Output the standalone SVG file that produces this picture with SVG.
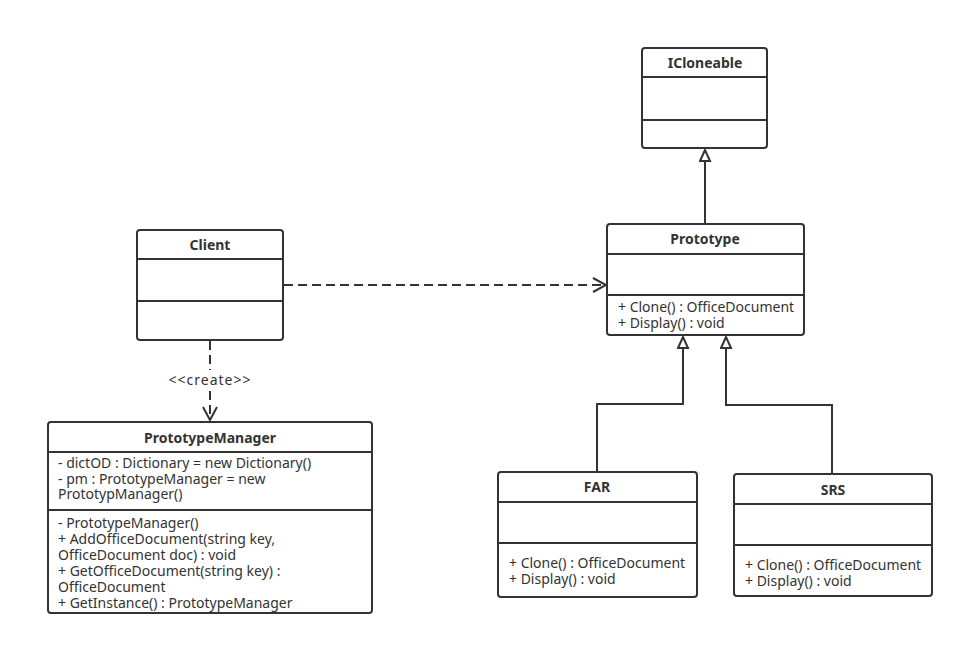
<svg xmlns="http://www.w3.org/2000/svg" width="963" height="646" viewBox="0 0 963 646">
<style>
.box{fill:#fff;stroke:#333;stroke-width:2}
.div{stroke:#333;stroke-width:2}
.t{font-family:"Noto Sans","Open Sans",sans-serif;font-size:14px;fill:#333}
.b{font-weight:bold;text-anchor:middle}
.ln{fill:none;stroke:#333;stroke-width:2}
.dash{stroke-dasharray:9 5}
</style>
<defs>
<marker id="tri" markerWidth="14" markerHeight="14" refX="12" refY="6" orient="auto" markerUnits="userSpaceOnUse">
<path d="M1,1 L12,6 L1,11 Z" fill="#fff" stroke="#333" stroke-width="2"/>
</marker>
<marker id="open" markerWidth="16" markerHeight="16" refX="14" refY="8" orient="auto" markerUnits="userSpaceOnUse">
<path d="M1,1 L14,8 L1,15" fill="none" stroke="#333" stroke-width="2"/>
</marker>
</defs>
<rect width="963" height="646" fill="#fff"/>
<g id="connectors">
<path class="ln" d="M705,224 V150" marker-end="url(#tri)"/>
<path class="ln dash" d="M284,285 H606" marker-end="url(#open)"/>
<path class="ln dash" d="M210,341 V370 M210,391 V420" marker-end="url(#open)"/>
<text class="t" x="210" y="385" text-anchor="middle" font-size="12" letter-spacing="1">&lt;&lt;create&gt;&gt;</text>
<path class="ln" d="M597,472 V404 H683 V337" marker-end="url(#tri)"/>
<path class="ln" d="M832,474 V405 H726 V337" marker-end="url(#tri)"/>
</g>
<g id="ICloneable">
<rect class="box" x="642" y="48" width="125" height="100" rx="3"/>
<line class="div" x1="642" y1="77" x2="767" y2="77"/>
<line class="div" x1="642" y1="120" x2="767" y2="120"/>
<text class="t b" x="705" y="68">ICloneable</text>
</g>
<g id="Prototype">
<rect class="box" x="607" y="224" width="197" height="111" rx="3"/>
<line class="div" x1="607" y1="254" x2="804" y2="254"/>
<line class="div" x1="607" y1="295" x2="804" y2="295"/>
<text class="t b" x="705" y="244">Prototype</text>
<text class="t" x="618" y="312">+ Clone() : OfficeDocument</text>
<text class="t" x="618" y="328">+ Display() : void</text>
</g>
<g id="Client">
<rect class="box" x="137" y="230" width="146" height="110" rx="3"/>
<line class="div" x1="137" y1="259" x2="283" y2="259"/>
<line class="div" x1="137" y1="301" x2="283" y2="301"/>
<text class="t b" x="210" y="250">Client</text>
</g>
<g id="PrototypeManager">
<rect class="box" x="48" y="422" width="324" height="191" rx="3"/>
<line class="div" x1="48" y1="452" x2="372" y2="452"/>
<line class="div" x1="48" y1="510" x2="372" y2="510"/>
<text class="t b" x="210" y="443">PrototypeManager</text>
<text class="t" x="58" y="468">- dictOD : Dictionary = new Dictionary()</text>
<text class="t" x="58" y="484">- pm : PrototypeManager = new</text>
<text class="t" x="58" y="499">PrototypManager()</text>
<text class="t" x="58" y="528">- PrototypeManager()</text>
<text class="t" x="58" y="544">+ AddOfficeDocument(string key,</text>
<text class="t" x="58" y="560">OfficeDocument doc) : void</text>
<text class="t" x="58" y="576">+ GetOfficeDocument(string key) :</text>
<text class="t" x="58" y="592">OfficeDocument</text>
<text class="t" x="58" y="608">+ GetInstance() : PrototypeManager</text>
</g>
<g id="FAR">
<rect class="box" x="498" y="472" width="199" height="125" rx="3"/>
<line class="div" x1="498" y1="502" x2="697" y2="502"/>
<line class="div" x1="498" y1="543" x2="697" y2="543"/>
<text class="t b" x="597" y="492">FAR</text>
<text class="t" x="509" y="568">+ Clone() : OfficeDocument</text>
<text class="t" x="509" y="584">+ Display() : void</text>
</g>
<g id="SRS">
<rect class="box" x="734" y="474" width="198" height="122" rx="3"/>
<line class="div" x1="734" y1="504" x2="932" y2="504"/>
<line class="div" x1="734" y1="545" x2="932" y2="545"/>
<text class="t b" x="833" y="495">SRS</text>
<text class="t" x="745" y="570">+ Clone() : OfficeDocument</text>
<text class="t" x="745" y="586">+ Display() : void</text>
</g>
</svg>
